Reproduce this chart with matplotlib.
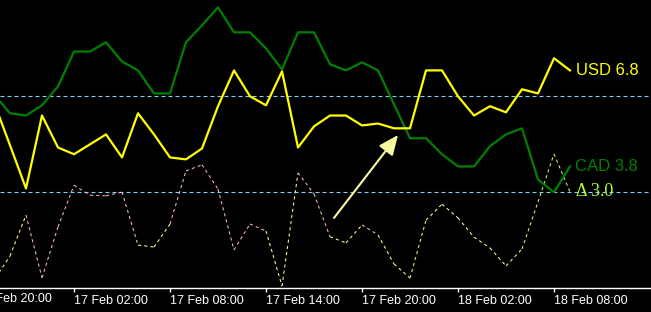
import numpy as np
import pandas as pd
import matplotlib
matplotlib.use('Agg')
import matplotlib.pyplot as plt
import matplotlib.dates as mdates
import matplotlib.transforms as mtransforms
from matplotlib.collections import LineCollection

# hourly strength readings, 16 Feb 21:00 .. 18 Feb 09:00
start = '2015-02-16 21:00'
usd = [5.80, 4.46, 3.11, 5.39, 4.39, 4.18, 4.49, 4.80, 4.08, 5.46,
       4.80, 4.08, 4.02, 4.36, 5.68, 6.80, 5.99, 5.71, 6.77, 4.39,
       5.05, 5.39, 5.39, 5.08, 5.14, 4.99, 4.99, 6.80, 6.80, 5.99,
       5.39, 5.68, 5.49, 6.21, 6.08, 7.18, 6.80]
cad = [6.05, 5.46, 5.39, 5.71, 6.30, 7.39, 7.39, 7.68, 7.08, 6.80,
       6.08, 6.08, 7.68, 8.21, 8.77, 7.99, 7.99, 7.49, 6.83, 7.99,
       7.99, 6.99, 6.80, 7.05, 6.80, 5.74, 4.68, 4.68, 4.18, 3.80,
       3.80, 4.43, 4.80, 4.99, 3.39, 2.99, 3.80]
# colour code of each delta segment (Y = pale yellow, P = pink, G = yellow-green)
delta_codes = 'YYPPPPPPPYYPPPPPPYYPPYYPYYGYYYYYYGGG'
levels = [3, 6]

usd = np.array(usd)
cad = np.array(cad)
delta = np.abs(usd - cad)
times = pd.date_range(start, periods=len(usd), freq='h')
x = mdates.date2num(times.to_pydatetime())
hour = 1 / 24

code_colors = {'Y': '#ffff99', 'P': '#ffb6c1', 'G': '#ccff66'}

plt.rcParams['font.family'] = ['Liberation Sans', 'DejaVu Sans']
fig = plt.figure(figsize=(6.51, 3.12), dpi=100, facecolor='black')
ax = fig.add_axes([0, 24 / 312, 1, 288 / 312])
ax.set_facecolor('black')

for lv in levels:
    ax.axhline(lv, color='#87cefa', lw=0.8, linestyle=(0, (3.6, 2.7)), zorder=1)

pts = np.column_stack([x, delta])
segs = np.stack([pts[:-1], pts[1:]], axis=1)
lc = LineCollection(segs, colors=[code_colors[c] for c in delta_codes],
                    linewidths=0.75, linestyles=(0, (3, 3)), zorder=2)
ax.add_collection(lc)

ax.plot(x, cad, color='#008000', lw=1.6, zorder=3)
ax.plot(x, usd, color='#ffff00', lw=1.6, zorder=4)

ax.annotate(f'USD {usd[-1]:.1f}', xy=(x[-1], usd[-1]), xytext=(6, 0),
            textcoords='offset pixels', color='#ffff00', fontsize=12, va='center')
ax.annotate(f'CAD {cad[-1]:.1f}', xy=(x[-1], cad[-1]), xytext=(5, 0),
            textcoords='offset pixels', color='#008000', fontsize=12, va='center')
ax.annotate(f'\u0394 {delta[-1]:.1f}', xy=(x[-1], delta[-1]), xytext=(6, 0),
            textcoords='offset pixels', color='#adff2f', fontsize=13, va='center',
            family=['Liberation Serif', 'DejaVu Serif'])

# arrow at the USD/CAD crossing
ax.annotate('', xy=(x[0] + 25.25 * hour, 4.78), xytext=(x[0] + 21.25 * hour, 2.19),
            arrowprops=dict(arrowstyle='-|>,head_length=0.8,head_width=0.35',
                            color='#fafaa0', lw=1.5, mutation_scale=15,
                            shrinkA=0, shrinkB=0), zorder=5)

ticks = pd.date_range('2015-02-16 20:00', periods=7, freq='6h')
tick_x = mdates.date2num(ticks.to_pydatetime())
ax.set_xticks(tick_x)
ax.set_xticklabels([t.strftime('%d %b %H:%M') for t in ticks], ha='left')
ax.tick_params(axis='x', colors='white', length=3, width=1, pad=2, labelsize=9)
ax.set_yticks([])

ax.set_ylim(0, 9)
ax.set_xlim(x[0] + 0.375 * hour, x[0] + (0.375 + 651 / 16) * hour)

# first label sits left of the view and is only partly shown
trans = mtransforms.blended_transform_factory(ax.transData, ax.transAxes)
ax.annotate(ticks[0].strftime('%d %b %H:%M'), xy=(tick_x[0], 0), xycoords=trans,
            xytext=(0, -5), textcoords='offset pixels', ha='left', va='top',
            color='white', fontsize=9, annotation_clip=False)

for side in ['top', 'left', 'right']:
    ax.spines[side].set_visible(False)
ax.spines['bottom'].set_color('white')
ax.spines['bottom'].set_linewidth(1)

fig.savefig('out.png', dpi=100, facecolor='black')
